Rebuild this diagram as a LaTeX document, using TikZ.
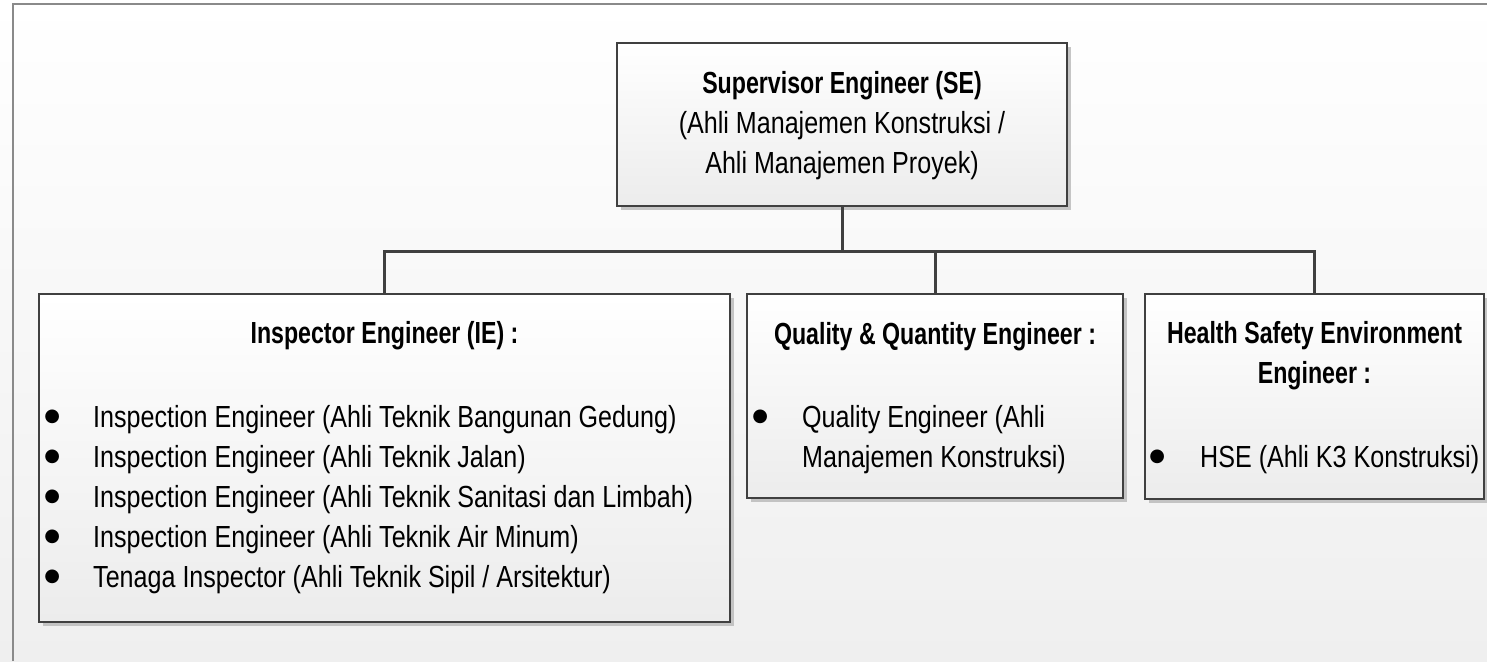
\documentclass[tikz,border=0pt]{standalone}
\usepackage{fontspec}
\setmainfont{Liberation Sans}[FakeStretch=0.823]
\newfontfamily\headfont{Liberation Sans}[FakeStretch=0.76]
\newfontfamily\bulfont{DejaVu Sans}
\newcommand\bulmark{\makebox[0pt][c]{\raisebox{5.5pt}[0pt][0pt]{\fontsize{18}{18}\bulfont ●}}}
\usetikzlibrary{shadows}
\definecolor{bgbot}{HTML}{EFEFEF}
\definecolor{boxbot}{HTML}{ECECEC}
\definecolor{framegray}{HTML}{8A8A8A}
\definecolor{linegray}{HTML}{404040}
\definecolor{shadowgray}{HTML}{B8B8B8}
\tikzset{
  orgbox/.style={draw=linegray, line width=1.2pt, top color=white, bottom color=boxbot,
    drop shadow={shadow xshift=4pt, shadow yshift=-4pt, fill=shadowgray, opacity=0.8},
    inner sep=0pt},
  conn/.style={draw=linegray, line width=3pt},
  head/.style={inner sep=0pt, anchor=base, font=\fontsize{30.5}{40}\headfont\bfseries},
  body/.style={inner sep=0pt, anchor=base, font=\fontsize{30.5}{40}\selectfont},
  item/.style={inner sep=0pt, anchor=base west, font=\fontsize{30.5}{40}\selectfont},
}
\begin{document}
\begin{tikzpicture}[x=1pt,y=-1pt]
\useasboundingbox (0,0) rectangle (1487,661);
\shade[top color=white, bottom color=bgbot] (0,0) rectangle (1487,661);
\draw[framegray, line width=2.5pt] (13,661) -- (13,4) -- (1487,4);
% boxes
\node[orgbox, minimum width=450pt, minimum height=163pt] (se) at (842,124.5) {};
\node[orgbox, minimum width=691pt, minimum height=328pt] (ie) at (384.5,458) {};
\node[orgbox, minimum width=376pt, minimum height=204pt] (qq) at (935,396) {};
\node[orgbox, minimum width=339pt, minimum height=205pt] (hse) at (1314.5,396.5) {};
% connectors
\coordinate (bus) at (842,251);
\draw[conn] (se.south) -- (bus) -| (ie.north);
\draw[conn] (bus) -| (qq.north);
\draw[conn] (bus) -| (hse.north);
% SE text
\node[head] (se1) at (842,93) {Supervisor Engineer (SE)};
\node[body] (se2) at (842,133) {(Ahli Manajemen Konstruksi /};
\node[body] (se3) at (842,173) {Ahli Manajemen Proyek)};
% IE text
\node[head] (ie0) at (384.5,343) {Inspector Engineer (IE) :};
\node[item] (ie1) at (52,427) {\makebox[41pt][l]{\bulmark}Inspection Engineer (Ahli Teknik Bangunan Gedung)};
\node[item] (ie2) at (52,467) {\makebox[41pt][l]{\bulmark}Inspection Engineer (Ahli Teknik Jalan)};
\node[item] (ie3) at (52,507) {\makebox[41pt][l]{\bulmark}Inspection Engineer (Ahli Teknik Sanitasi dan Limbah)};
\node[item] (ie4) at (52,547) {\makebox[41pt][l]{\bulmark}Inspection Engineer (Ahli Teknik Air Minum)};
\node[item] (ie5) at (52,587) {\makebox[41pt][l]{\bulmark}Tenaga Inspector (Ahli Teknik Sipil / Arsitektur)};
% QQ text
\node[head] (qq0) at (935,344) {Quality \& Quantity Engineer :};
\node[item] (qq1) at (760,427) {\makebox[42pt][l]{\bulmark}Quality Engineer (Ahli};
\node[item] (qq2) at (802,467) {Manajemen Konstruksi)};
% HSE text
\node[head] (hs0) at (1314.5,343) {Health Safety Environment};
\node[head] (hs1) at (1314.5,383) {Engineer :};
\node[item] (hs2) at (1157,467) {\makebox[43pt][l]{\bulmark}HSE (Ahli K3 Konstruksi)};
\end{tikzpicture}
\end{document}
